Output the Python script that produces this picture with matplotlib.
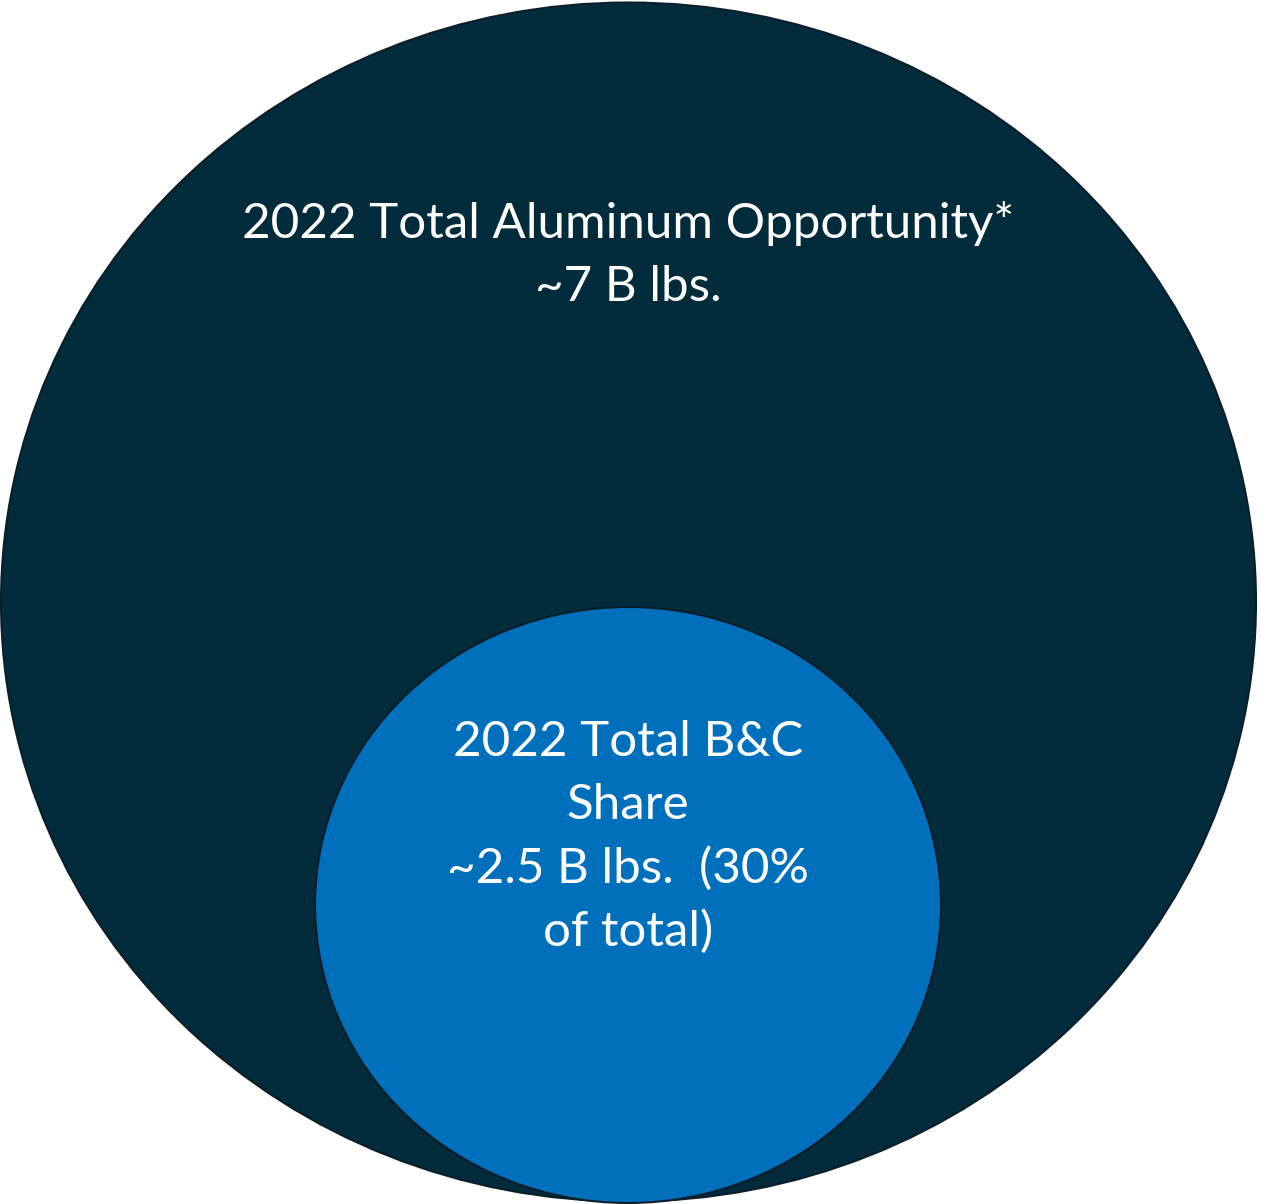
import matplotlib
matplotlib.use("Agg")
import matplotlib.pyplot as plt
from matplotlib.patches import Ellipse

# Labels for the two nested regions
outer_lines = ["2022 Total Aluminum Opportunity*", "~7 B lbs."]
inner_lines = ["2022 Total B&C", "Share", "~2.5 B lbs.  (30%", "of total)"]

outer_color = "#022b3b"
inner_color = "#0070bd"
edge_color = "#0b1e2a"

W, H = 1261, 1204
fig = plt.figure(figsize=(W / 100, H / 100), dpi=100)
ax = fig.add_axes([0, 0, 1, 1])
ax.set_xlim(0, W)
ax.set_ylim(H, 0)
ax.set_aspect("equal")
ax.axis("off")

ax.add_patch(Ellipse((628.5, 602), 1255, 1199, facecolor=outer_color,
                     edgecolor=edge_color, linewidth=1.5))
ax.add_patch(Ellipse((628, 905), 626, 596, facecolor=inner_color,
                     edgecolor=edge_color, linewidth=1.5))

font = dict(family=["Lato", "DejaVu Sans"], color="white", fontsize=35.5,
            ha="center", va="center")
for i, line in enumerate(outer_lines):
    ax.text(628, 224 + i * 63, line, **font)
for i, line in enumerate(inner_lines):
    ax.text(628, 742 + i * 63, line, **font)

fig.savefig("out.png", dpi=100)
